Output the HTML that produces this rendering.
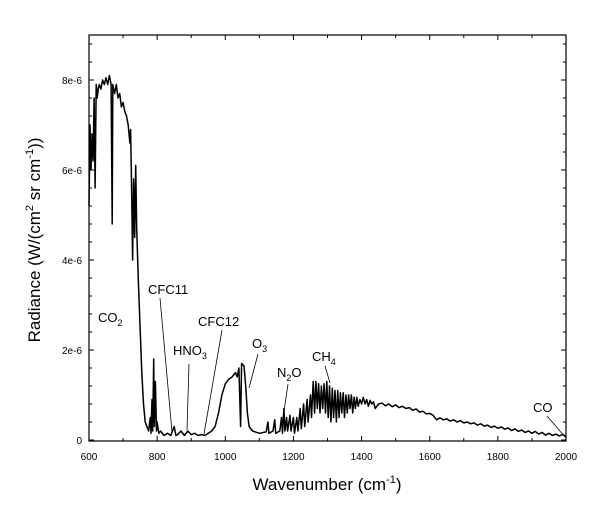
<!DOCTYPE html>
<html><head><meta charset="utf-8"><style>
body{margin:0;background:#fff;}
svg{display:block;font-family:"Liberation Sans",Arial,sans-serif;}
</style></head><body>
<svg id="chart" width="615" height="528" viewBox="0 0 615 528">
<g id="axes"></g>
<path id="spec" fill="none" stroke="#000" stroke-width="1.5" stroke-linejoin="round"></path>
<g id="ann" font-size="13" fill="#000"></g>
<text x="327" y="490" font-size="17" text-anchor="middle">Wavenumber (cm<tspan font-size="11" dy="-7">-1</tspan><tspan dy="7">)</tspan></text>
<text transform="translate(40,240) rotate(-90)" font-size="17" text-anchor="middle">Radiance (W/(cm<tspan font-size="11" dy="-7">2</tspan><tspan dy="7"> sr cm</tspan><tspan font-size="11" dy="-7">-1</tspan><tspan dy="7">))</tspan></text>
</svg>
<script>
const wavenumbers=[600,603,606,609,612,615,618,621,624,627,630,635,640,645,650,655,660,665,668,670,675,680,685,690,695,700,705,710,715,720,722,725,728,731,734,737,740,745,750,755,760,765,770,775,780,782,785,787,790,792,795,798,800,805,810,820,830,840,850,855,860,870,880,890,900,910,920,930,940,950,960,970,980,990,1000,1010,1020,1030,1035,1040,1045,1048,1055,1060,1065,1070,1080,1100,1120,1125,1128,1140,1145,1148,1160,1165,1168,1172,1175,1180,1183,1190,1193,1200,1203,1210,1213,1220,1223,1230,1233,1240,1243,1250,1253,1258,1262,1266,1270,1274,1278,1282,1286,1290,1294,1298,1302,1306,1310,1314,1318,1322,1326,1330,1334,1338,1342,1346,1350,1354,1358,1362,1366,1370,1374,1378,1382,1386,1390,1395,1400,1405,1410,1415,1420,1425,1430,1435,1440,1450,1460,1470,1480,1490,1500,1510,1520,1530,1540,1550,1560,1570,1580,1590,1600,1610,1620,1630,1640,1650,1660,1670,1680,1690,1700,1710,1720,1730,1740,1750,1760,1770,1780,1790,1800,1810,1820,1830,1840,1850,1860,1870,1880,1890,1900,1910,1920,1930,1940,1950,1960,1970,1980,1990,2000];
const radiance=[5.2,7.0,6.0,6.8,6.2,7.6,5.6,7.9,7.6,7.8,7.9,7.8,8.0,7.9,8.05,7.9,8.1,7.9,4.8,7.9,7.7,7.9,7.6,7.7,7.4,7.5,7.3,7.2,7.0,6.6,6.9,5.6,4.0,5.8,4.5,6.1,4.7,3.5,2.5,1.5,0.8,0.4,0.3,0.2,0.5,0.15,0.9,0.2,1.8,0.3,1.3,0.2,0.4,0.15,0.2,0.1,0.15,0.1,0.3,0.1,0.12,0.2,0.1,0.2,0.12,0.15,0.1,0.12,0.1,0.15,0.2,0.3,0.6,1.0,1.25,1.35,1.4,1.5,1.4,1.6,0.3,1.7,1.65,1.2,0.6,0.3,0.2,0.15,0.18,0.4,0.15,0.2,0.45,0.15,0.2,0.5,0.15,0.7,0.2,0.5,0.2,0.55,0.2,0.5,0.15,0.5,0.2,0.7,0.25,0.8,0.3,0.9,0.4,1.0,0.5,1.3,0.6,1.3,0.7,1.25,0.6,1.2,0.7,1.25,0.6,1.3,0.5,1.2,0.4,1.15,0.5,1.1,0.4,1.1,0.5,1.05,0.6,1.05,0.5,1.0,0.6,1.0,0.7,1.0,0.6,0.95,0.7,0.95,0.75,0.9,0.8,0.95,0.8,0.9,0.75,0.88,0.8,0.85,0.7,0.8,0.82,0.76,0.8,0.74,0.78,0.72,0.75,0.7,0.72,0.66,0.69,0.62,0.64,0.58,0.59,0.55,0.45,0.49,0.45,0.47,0.42,0.45,0.4,0.43,0.38,0.4,0.36,0.38,0.33,0.36,0.31,0.33,0.28,0.31,0.26,0.29,0.24,0.27,0.21,0.25,0.19,0.22,0.17,0.2,0.15,0.19,0.13,0.17,0.11,0.15,0.1,0.13,0.09,0.12,0.08,0.11,0.07];
const xTicks=[600,800,1000,1200,1400,1600,1800,2000];
const yTicks=[0,2,4,6,8];
const yTickLabels=["0","2e-6","4e-6","6e-6","8e-6"];
const L=89,R=566,T=35,B=441;
const sx=v=>L+(v-600)/1400*(R-L);
const sy=v=>440-v*45;
const NS="http://www.w3.org/2000/svg";
const ax=document.getElementById('axes');
function mk(tag,attrs,parent){const e=document.createElementNS(NS,tag);for(const k in attrs)e.setAttribute(k,attrs[k]);parent.appendChild(e);return e;}
const frame=mk('rect',{x:L,y:T,width:R-L,height:B-T,fill:'none',stroke:'#000','stroke-width':1.2},ax);


for(let v=600;v<=2000;v+=100){const x=sx(v);const len=v%200===0?5:3;
 const t=mk('line',{x1:x,x2:x,y1:B,y2:B-len,stroke:'#000'},ax);
 
 
 mk('line',{x1:x,x2:x,y1:T,y2:T+len,stroke:'#000'},ax);}
xTicks.forEach(v=>{const t=mk('text',{x:sx(v),y:460,'font-size':10,'text-anchor':'middle'},ax);t.textContent=v;
 
 });
for(let i=0;i<=22;i++){const v=i*0.4;const y=sy(v);if(y<T)break;const major=Math.abs(v-Math.round(v))<1e-6&&Math.round(v)%2===0;const len=major?5:3;
 const t=mk('line',{x1:L,x2:L+len,y1:y,y2:y,stroke:'#000'},ax);
 
 
 mk('line',{x1:R,x2:R-len,y1:y,y2:y,stroke:'#000'},ax);}
yTicks.forEach((v,i)=>{const t=mk('text',{x:82,y:sy(v)+4,'font-size':10,'text-anchor':'end'},ax);t.textContent=yTickLabels[i];
 
 });
let d='';wavenumbers.forEach((w,i)=>{d+=(i?'L':'M')+sx(w).toFixed(1)+','+sy(radiance[i]).toFixed(1);});
document.getElementById('spec').setAttribute('d',d);
const ann=document.getElementById('ann');
const labels=[
 ['co2-label','CO','2',98,322,null],
 ['cfc11-label','CFC11','',148,294,[160,298,172,432]],
 ['hno3-label','HNO','3',173,355,[189,364,187,430]],
 ['cfc12-label','CFC12','',198,326,[222,330,204,434]],
 ['o3-label','O','3',252,348,[258,354,249,388]],
 ['n2o-label','N','2',277,377,[288,384,283,418]],
 ['ch4-label','CH','4',312,361,[325,366,330,383]],
 ['co-label','CO','',533,412,[547,416,566,438]]];
labels.forEach(a=>{const t=mk('text',{x:a[3],y:a[4]},ann);
 
 
 t.appendChild(document.createTextNode(a[1]));
 if(a[2]){const s=mk('tspan',{'font-size':9,dy:4},t);s.textContent=a[2];}
 if(a[0]==='n2o-label'){const s=mk('tspan',{dy:-4},t);s.textContent='O';}
 if(a[5]){const l=mk('line',{x1:a[5][0],y1:a[5][1],x2:a[5][2],y2:a[5][3],stroke:'#000','stroke-width':0.8},ann);
 
 }});
</script>
</body></html>
